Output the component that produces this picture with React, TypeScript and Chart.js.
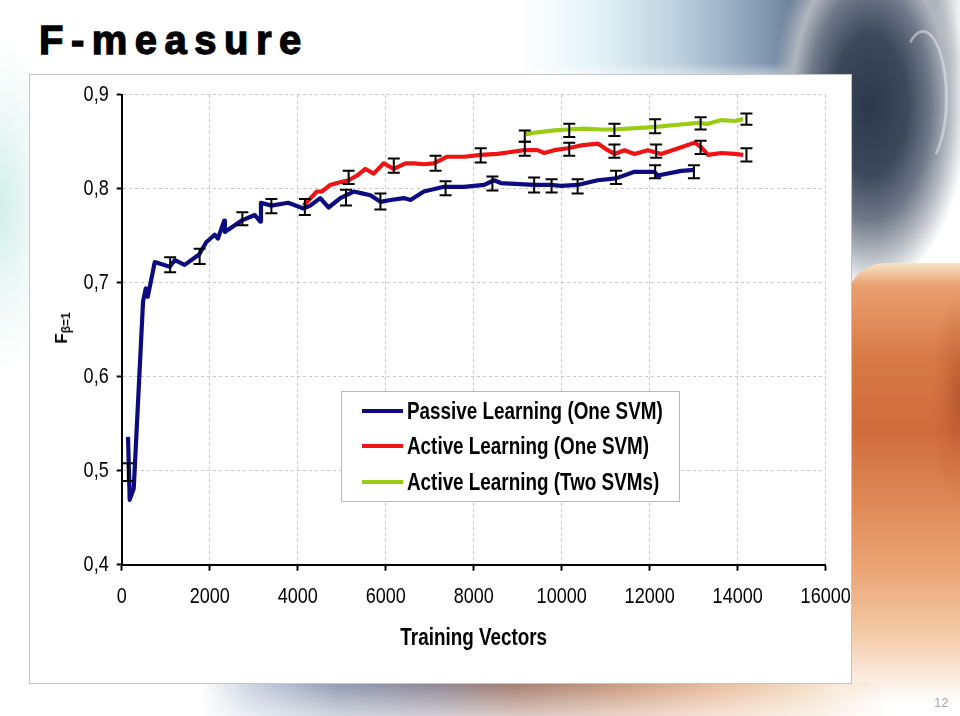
import React, { useEffect, useRef } from "react";
import { Chart, registerables } from "chart.js";

Chart.register(...registerables);

const SANS = '"Liberation Sans", Arial, sans-serif';
const NARROW_SCALE = 0.82; // emulates Arial Narrow (not installed)

// ---- Data ----
const passiveX = [144, 182, 273, 485, 547, 592, 752, 1090, 1208, 1430, 1760, 1921, 2113, 2188, 2330, 2345, 2719, 3024, 3150, 3165, 3402, 3783, 4132, 4284, 4512, 4702, 4968, 5272, 5463, 5652, 5880, 6108, 6411, 6563, 6867, 7323, 7779, 8235, 8463, 8615, 9374, 9754, 9982, 10362, 10818, 11235, 11653, 12109, 12185, 12717, 13021];
const passiveY = [0.536, 0.469, 0.481, 0.680, 0.694, 0.685, 0.722, 0.717, 0.724, 0.719, 0.730, 0.743, 0.751, 0.747, 0.766, 0.754, 0.766, 0.772, 0.765, 0.785, 0.782, 0.785, 0.779, 0.782, 0.790, 0.780, 0.790, 0.797, 0.795, 0.793, 0.786, 0.788, 0.790, 0.788, 0.797, 0.802, 0.802, 0.804, 0.809, 0.806, 0.804, 0.804, 0.803, 0.804, 0.809, 0.811, 0.818, 0.818, 0.814, 0.819, 0.820];

const activeOneX = [4132, 4436, 4550, 4740, 4892, 5158, 5348, 5538, 5728, 5956, 6184, 6449, 6639, 6867, 7095, 7399, 7779, 8159, 8539, 8843, 9146, 9450, 9602, 9830, 10134, 10438, 10818, 11046, 11198, 11426, 11653, 11957, 12261, 12717, 13021, 13173, 13325, 13629, 13933, 14123];
const activeOneY = [0.782, 0.797, 0.797, 0.804, 0.806, 0.809, 0.814, 0.821, 0.816, 0.827, 0.821, 0.827, 0.827, 0.826, 0.827, 0.834, 0.834, 0.836, 0.837, 0.839, 0.841, 0.841, 0.838, 0.841, 0.843, 0.846, 0.848, 0.841, 0.837, 0.841, 0.837, 0.841, 0.837, 0.844, 0.849, 0.844, 0.836, 0.838, 0.837, 0.836];

const activeTwoX = [9184, 9450, 9830, 10134, 10514, 10894, 11198, 11502, 11881, 12185, 12641, 13097, 13325, 13629, 13933, 14123];
const activeTwoY = [0.858, 0.860, 0.862, 0.863, 0.864, 0.863, 0.863, 0.864, 0.865, 0.866, 0.868, 0.870, 0.869, 0.873, 0.872, 0.874];

// Error bars: x position, lower and upper value
const passiveErrX = [140, 1101, 1771, 2742, 3402, 4163, 5098, 5880, 7361, 8425, 9374, 9770, 10362, 11235, 12124, 13005];
const passiveErrLow = [0.489, 0.711, 0.720, 0.761, 0.774, 0.772, 0.782, 0.778, 0.793, 0.798, 0.796, 0.796, 0.795, 0.805, 0.811, 0.811];
const passiveErrHigh = [0.508, 0.727, 0.736, 0.775, 0.789, 0.789, 0.799, 0.795, 0.808, 0.813, 0.812, 0.810, 0.810, 0.819, 0.825, 0.825];

const activeOneErrX = [5158, 6184, 7133, 8159, 9161, 10172, 11198, 12147, 13157, 14199];
const activeOneErrLow = [0.805, 0.817, 0.819, 0.828, 0.835, 0.835, 0.833, 0.833, 0.837, 0.829];
const activeOneErrHigh = [0.819, 0.832, 0.835, 0.843, 0.850, 0.849, 0.847, 0.847, 0.851, 0.843];

const activeTwoErrX = [9161, 10172, 11198, 12124, 13157, 14199];
const activeTwoErrLow = [0.850, 0.855, 0.856, 0.859, 0.863, 0.868];
const activeTwoErrHigh = [0.862, 0.869, 0.869, 0.874, 0.876, 0.880];

const seriesNames = ["Passive Learning (One SVM)", "Active Learning (One SVM)", "Active Learning (Two SVMs)"];
const seriesColors = ["#0c0c80", "#ee1414", "#9acc16"];

const xTicks = { min: 0, max: 16000, step: 2000 };
const yTicks = { min: 0.4, max: 0.9, step: 0.1 };

const errorSets = [
  { x: passiveErrX, low: passiveErrLow, high: passiveErrHigh },
  { x: activeOneErrX, low: activeOneErrLow, high: activeOneErrHigh },
  { x: activeTwoErrX, low: activeTwoErrLow, high: activeTwoErrHigh },
];

const toPoints = (xs: number[], ys: number[]) => xs.map((x, i) => ({ x, y: ys[i] }));

const errorBarPlugin = {
  id: "errorBars",
  afterDatasetsDraw(chart: any) {
    const { ctx } = chart;
    const xs = chart.scales.x;
    const ys = chart.scales.y;
    ctx.save();
    ctx.strokeStyle = "#000";
    ctx.lineWidth = 2;
    for (const set of errorSets) {
      set.x.forEach((xv, i) => {
        const px = xs.getPixelForValue(xv);
        const lo = ys.getPixelForValue(set.low[i]);
        const hi = ys.getPixelForValue(set.high[i]);
        ctx.beginPath();
        ctx.moveTo(px, lo);
        ctx.lineTo(px, hi);
        ctx.moveTo(px - 6, lo);
        ctx.lineTo(px + 6, lo);
        ctx.moveTo(px - 6, hi);
        ctx.lineTo(px + 6, hi);
        ctx.stroke();
      });
    }
    ctx.restore();
  },
};

// make canvas text condensed (like Arial Narrow) by scaling horizontally around the anchor
function condenseContext(ctx: any) {
  if (!ctx || ctx.__condensed) return;
  const fill = ctx.fillText.bind(ctx);
  const measure = ctx.measureText.bind(ctx);
  ctx.fillText = (text: string, x: number, y: number) => {
    ctx.save();
    ctx.translate(x, y);
    ctx.scale(NARROW_SCALE, 1);
    fill(text, 0, 0);
    ctx.restore();
  };
  ctx.measureText = (text: string) => {
    const m = measure(text);
    return {
      width: m.width * NARROW_SCALE,
      actualBoundingBoxAscent: m.actualBoundingBoxAscent,
      actualBoundingBoxDescent: m.actualBoundingBoxDescent,
      actualBoundingBoxLeft: m.actualBoundingBoxLeft * NARROW_SCALE,
      actualBoundingBoxRight: m.actualBoundingBoxRight * NARROW_SCALE,
    };
  };
  ctx.__condensed = true;
}

function FChart() {
  const ref = useRef<HTMLCanvasElement | null>(null);
  useEffect(() => {
    if (!ref.current) return;
    condenseContext(ref.current.getContext("2d"));
    const chart = new Chart(ref.current, {
      type: "line",
      data: {
        datasets: [
          { label: seriesNames[0], data: toPoints(passiveX, passiveY), borderColor: seriesColors[0] },
          { label: seriesNames[1], data: toPoints(activeOneX, activeOneY), borderColor: seriesColors[1] },
          { label: seriesNames[2], data: toPoints(activeTwoX, activeTwoY), borderColor: seriesColors[2] },
        ].map((d) => ({ ...d, borderWidth: 4.2, pointRadius: 0, tension: 0, fill: false, borderJoinStyle: "round" as const, borderCapStyle: "butt" as const })),
      },
      options: {
        animation: false,
        responsive: false,
        devicePixelRatio: 1,
        layout: { padding: { top: 19.7, right: 25.3, bottom: 0, left: 0 } },
        plugins: { legend: { display: false }, tooltip: { enabled: false } },
        scales: {
          x: {
            type: "linear",
            min: xTicks.min,
            max: xTicks.max,
            ticks: {
              stepSize: xTicks.step,
              callback: (v: any) => String(v),
              color: "#000",
              font: { family: SANS, size: 22 },
              padding: 13,
              maxRotation: 0,
              autoSkip: false,
            },
            grid: { color: "#c8c8c8", lineWidth: 1, tickColor: "#000", tickLength: 6, tickWidth: 2, tickBorderDash: [] },
            border: { display: true, color: "#000", width: 2, dash: [3, 3] },
            title: {
              display: true,
              text: "Training Vectors",
              color: "#000",
              font: { family: SANS, size: 23, weight: "bold" },
              padding: { top: 0, bottom: 31 },
            },
            afterFit: (s: any) => {
              s.height = 118.3;
              s.paddingLeft = 0;
              s.paddingRight = 0;
            },
          },
          y: {
            type: "linear",
            min: yTicks.min,
            max: yTicks.max,
            ticks: {
              stepSize: yTicks.step,
              callback: (v: any) => Number(v).toFixed(1).replace(".", ","),
              color: "#000",
              font: { family: SANS, size: 22 },
              padding: 8,
            },
            grid: { color: "#c8c8c8", lineWidth: 1, tickColor: "#000", tickLength: 5, tickWidth: 2, tickBorderDash: [] },
            border: { display: true, color: "#000", width: 2, dash: [3, 3] },
            afterFit: (s: any) => {
              s.width = 91.7;
              s.paddingTop = 0;
              s.paddingBottom = 0;
            },
          },
        },
      },
      plugins: [errorBarPlugin],
    });
    return () => chart.destroy();
  }, []);
  return <canvas ref={ref} width={821} height={608} style={{ position: "absolute", left: 0, top: 0, width: 821, height: 608 }} />;
}

export default function App() {
  const legendRows = [19, 54, 89.7];
  return (
    <div style={{ position: "fixed", left: 0, top: 0, width: 960, height: 716, overflow: "hidden", background: "#fff", fontFamily: SANS }}>
      {/* decorative slide background */}
      <div style={{ position: "absolute", left: -60, top: 40, width: 120, height: 330, background: "radial-gradient(ellipse at center, #d2eee8 0%, rgba(228,246,242,0.6) 40%, rgba(255,255,255,0) 72%)" }} />
      <div style={{ position: "absolute", left: 520, top: 0, width: 440, height: 90, background: "linear-gradient(180deg, rgba(255,255,255,0) 70%, #fff 100%), linear-gradient(90deg, rgba(255,255,255,0) 0%, #e6f5f8 16%, #bcd0de 36%, #8097b0 56%, #4d5f78 72%, #33405a 82%, #3c4656 88%, #b8bcc2 95%, #f2f2f2 100%)" }} />
      <div style={{ position: "absolute", left: 772, top: -80, width: 196, height: 370, background: "radial-gradient(ellipse 50% 50% at 50% 50%, #2c384a 0%, #3c485c 38%, #6e7888 62%, #b0b6be 80%, rgba(255,255,255,0) 100%)" }} />
      <div style={{ position: "absolute", left: 898, top: 30, width: 44, height: 130, borderRadius: "50%", border: "3px solid rgba(235,238,242,0.5)", borderLeftColor: "transparent", borderBottomColor: "transparent" }} />
      <div style={{ position: "absolute", left: 846, top: 263, width: 130, height: 440, borderTopLeftRadius: 40, background: "linear-gradient(180deg, #f6e6cc 0%, #eaa070 5%, #d77a45 22%, #cf6c3c 38%, #e08a58 55%, #eba676 70%, #f3c9a6 84%, rgba(255,255,255,0) 100%)" }} />
      <div style={{ position: "absolute", left: 870, top: 290, width: 120, height: 240, background: "radial-gradient(closest-side at 75% 45%, rgba(170,75,40,0.7) 0%, rgba(190,90,50,0.3) 55%, rgba(190,90,50,0) 100%)" }} />
      <div style={{ position: "absolute", left: 200, top: 682, width: 690, height: 34, background: "linear-gradient(180deg, rgba(255,255,255,0) 0%, rgba(255,255,255,0.6) 100%), linear-gradient(90deg, rgba(255,255,255,0) 0%, #c6cede 8%, #8e98b2 20%, #8c8494 34%, #a27a6c 45%, #c8957a 60%, #e8b898 74%, #f4dcc2 88%, rgba(255,255,255,0) 100%)" }} />

      {/* title */}
      <div style={{ position: "absolute", left: 39, top: 19.5, fontFamily: SANS, fontWeight: "bold", fontSize: 40, lineHeight: "40px", letterSpacing: 7.5, color: "#000", WebkitTextStroke: "1.3px #000", whiteSpace: "nowrap" }}>
        F-measure
      </div>

      {/* chart box */}
      <div style={{ position: "absolute", left: 30, top: 75, width: 821, height: 608, background: "#fff", boxShadow: "0 0 0 1px #c4c4c4" }}>
        <FChart />
        {/* y-axis title */}
        <div style={{ position: "absolute", left: 34, top: 253, transform: "translate(-50%,-50%) rotate(-90deg)", fontFamily: SANS, fontWeight: "bold", fontSize: 17, color: "#000", whiteSpace: "nowrap", lineHeight: "20px" }}>
          F<sub style={{ fontSize: 12, verticalAlign: "-3px" }}>β=1</sub>
        </div>
        {/* legend */}
        <div style={{ position: "absolute", left: 312, top: 317, width: 337, height: 109, background: "#fff", boxShadow: "0 0 0 1px #b8b8b8" }}>
          {seriesNames.map((name, i) => (
            <div key={name} style={{ position: "absolute", left: 0, top: legendRows[i] - 15, height: 30, width: 337 }}>
              <div style={{ position: "absolute", left: 20, top: 13, width: 41, height: 4, background: seriesColors[i] }} />
              <div style={{ position: "absolute", left: 65, top: 0, fontFamily: SANS, fontWeight: "bold", fontSize: 23, lineHeight: "30px", color: "#000", whiteSpace: "nowrap", transform: `scaleX(${NARROW_SCALE})`, transformOrigin: "left center" }}>{name}</div>
            </div>
          ))}
        </div>
      </div>

      {/* page number */}
      <div style={{ position: "absolute", left: 934, top: 695, fontFamily: SANS, fontSize: 13, color: "#a8a8a8" }}>12</div>
    </div>
  );
}
